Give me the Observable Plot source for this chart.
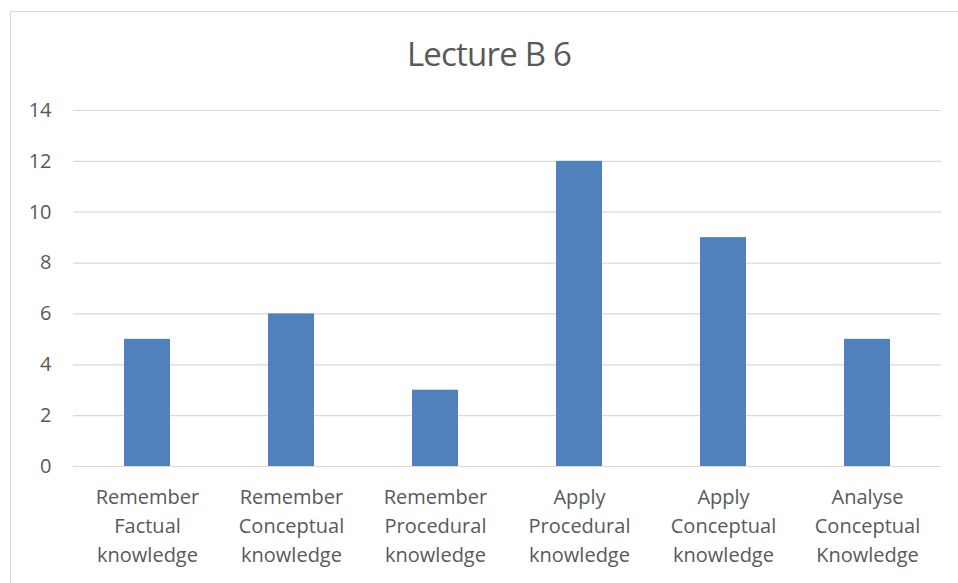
<!DOCTYPE html>
<html>
<head>
<meta charset="utf-8">
<script src="https://cdn.jsdelivr.net/npm/d3@7"></script>
<script src="https://cdn.jsdelivr.net/npm/@observablehq/plot@0.6"></script>
<style>
  html, body { margin: 0; padding: 0; background: #fff; }
  #wrap { position: relative; width: 958px; height: 583px; overflow: hidden; }
  #frame { position: absolute; left: 10px; top: 11px; width: 960px; height: 600px; border: 1px solid #d9d9d9; box-sizing: border-box; }
  #title { position: absolute; left: 0; width: 978px; top: 32px; text-align: center; font-family: "Open Sans", sans-serif; font-size: 33px; color: #595959; letter-spacing: -0.8px; line-height: 44px; }
  #chart { position: absolute; left: 0; top: 0; }
</style>
</head>
<body>
<div id="wrap">
  <div id="frame"></div>
  <div id="title">Lecture B 6</div>
  <div id="chart"></div>
</div>
<script>
const categories = [
  "Remember\nFactual\nknowledge",
  "Remember\nConceptual\nknowledge",
  "Remember\nProcedural\nknowledge",
  "Apply\nProcedural\nknowledge",
  "Apply\nConceptual\nknowledge",
  "Analyse\nConceptual\nKnowledge"
];
const values = [5, 6, 3, 12, 9, 5];
const yTicks = [0, 2, 4, 6, 8, 10, 12, 14];

const data = categories.map((c, i) => ({category: c, value: values[i]}));

const chart = Plot.plot({
  width: 958,
  height: 583,
  marginLeft: 73,
  marginRight: 17,
  marginTop: 110,
  marginBottom: 117,
  style: {fontFamily: "'Open Sans', sans-serif", fontSize: "20px", color: "#595959", background: "transparent"},
  x: {domain: categories, paddingInner: 0.68, paddingOuter: 0.34, label: null},
  y: {domain: [0, 14], label: null},
  marks: [
    Plot.gridY(yTicks, {stroke: "#d9d9d9", strokeOpacity: 1, strokeWidth: 1.2}),
    Plot.barY(data, {x: "category", y: "value", fill: "#4f81bd"}),
    Plot.axisY({ticks: yTicks, tickSize: 0, tickPadding: 22, fill: "#595959", fontSize: 20, label: null}),
    Plot.axisX({tickSize: 0, tickPadding: 17, fill: "#595959", fontSize: 20, lineHeight: 1.45, label: null, textOverflow: null})
  ]
});
document.getElementById("chart").appendChild(chart);
</script>
</body>
</html>
